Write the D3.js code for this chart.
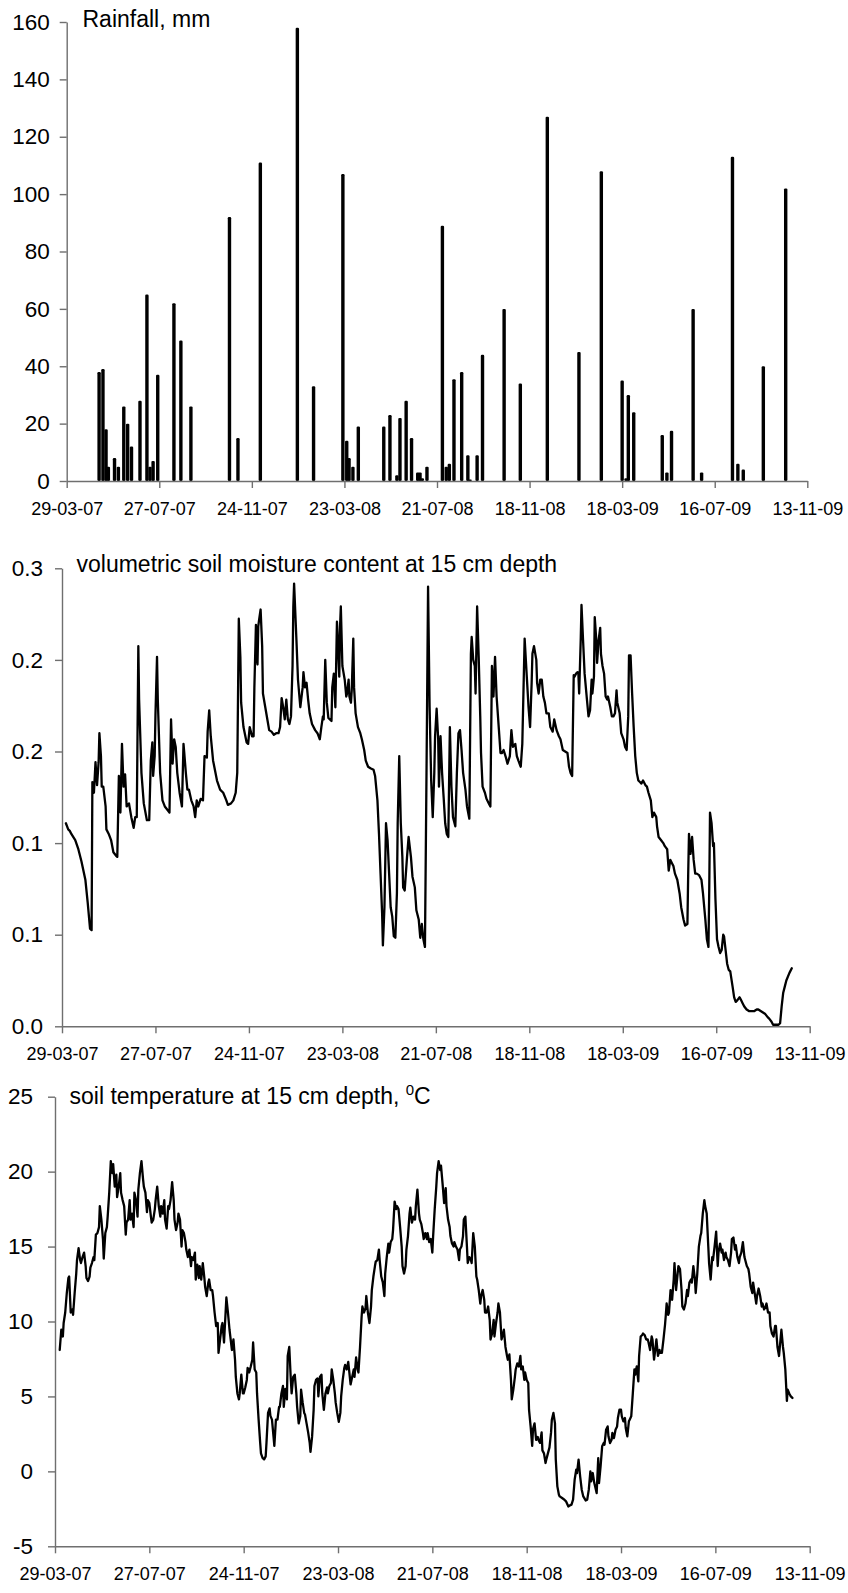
<!DOCTYPE html>
<html>
<head>
<meta charset="utf-8">
<script src="https://cdn.jsdelivr.net/npm/d3@7"></script>
<style>
  body { margin: 0; background: #fff; }
  svg text { font-family: "Liberation Sans", Arial, Helvetica, sans-serif; fill: #000; }
</style>
</head>
<body>
<svg id="chart" width="848" height="1593"></svg>
<script>
// Day numbers count from 29 March 2007 (day 0); the record ends on 13 November 2009 (day 960).
const startUTC = Date.UTC(2007, 2, 29);
const axisEndDay = 960;
const xTickDays = [0, 120, 240, 360, 480, 600, 720, 840, 960];

// Rainfall events, mm
const rainDays = [42, 47, 51, 54, 62, 67, 74, 79, 84, 95, 104, 108, 112, 118, 139, 148, 161,
  211, 222, 251, 299, 320, 358, 363, 366, 371, 378, 411, 419, 428, 432, 440, 447, 455, 458,
  461, 467, 487, 492, 496, 502, 512, 520, 523, 532, 539, 567, 588, 623, 664, 693, 720, 725,
  728, 735, 772, 778, 784, 812, 823, 863, 870, 877, 903, 932];
const rainMm = [38, 39, 18, 5, 8, 5, 26, 20, 12, 28, 65, 5, 7, 37, 62, 49, 26,
  92, 15, 111, 158, 33, 107, 14, 8, 5, 19, 19, 23, 2, 22, 28, 15, 3, 3,
  1, 5, 89, 5, 6, 35.5, 38, 9, 0.5, 9, 44, 60, 34, 127, 45, 108, 35, 1,
  30, 24, 16, 3, 17.5, 60, 3, 113, 6, 4, 40, 102];
const rainTicks = [0, 20, 40, 60, 80, 100, 120, 140, 160];

// Volumetric soil moisture at 15 cm: [day, m3/m3]
const moistureSeries = [
  [5,.133],[8,.129],[10,.128],[12,.126],[17,.122],[21,.116],[25,.108],[30,.096],[33,.081],[36,.064],
  [38,.063],[39,.160],[41,.153],[43,.173],[45,.158],[47,.173],[48,.192],[50,.177],[51,.157],[53,.157],
  [56,.144],[57,.129],[60,.126],[63,.122],[66,.114],[69,.112],[71,.111],[73,.164],[75,.140],[77,.185],
  [79,.157],[81,.165],[83,.144],[86,.146],[89,.137],[92,.130],[94,.137],[96,.137],[98,.249],[99,.214],
  [102,.166],[105,.146],[109,.135],[112,.135],[114,.174],[116,.186],[117,.164],[119,.177],[120,.204],[122,.242],
  [123,.214],[126,.166],[129,.148],[132,.144],[135,.142],[138,.140],[140,.201],[142,.172],[144,.188],[146,.183],
  [148,.166],[151,.153],[154,.144],[156,.185],[157,.179],[159,.166],[161,.155],[163,.155],[166,.148],[169,.144],
  [171,.137],[173,.148],[175,.144],[178,.149],[181,.148],[183,.177],[186,.176],[187,.193],[189,.207],[191,.190],
  [194,.174],[199,.161],[203,.155],[207,.153],[211,.148],[213,.145],[217,.146],[220,.148],[223,.153],[225,.166],
  [227,.267],[229,.242],[230,.212],[233,.196],[237,.186],[239,.185],[241,.196],[244,.190],[246,.190],[247,.222],
  [249,.263],[250,.242],[251,.237],[252,.262],[253,.266],[255,.273],[257,.249],[258,.218],[261,.209],[264,.200],
  [266,.194],[269,.193],[272,.191],[275,.192],[278,.192],[280,.196],[282,.215],[284,.209],[286,.201],[288,.214],
  [290,.201],[292,.198],[294,.203],[296,.236],[297,.275],[298,.290],[301,.253],[303,.227],[306,.209],[309,.222],
  [310,.232],[312,.222],[314,.225],[316,.214],[318,.205],[321,.198],[325,.194],[328,.192],[331,.188],[333,.196],
  [335,.203],[336,.201],[338,.240],[340,.212],[342,.202],[344,.201],[346,.200],[347,.222],[349,.231],[351,.209],
  [353,.265],[354,.255],[356,.229],[357,.262],[358,.275],[360,.236],[361,.233],[363,.227],[365,.216],[366,.218],
  [368,.227],[369,.216],[371,.212],[372,.220],[374,.254],[375,.222],[377,.205],[380,.196],[383,.192],[385,.188],
  [388,.181],[390,.174],[393,.170],[396,.169],[400,.168],[402,.164],[405,.148],[407,.126],[409,.100],[411,.074],
  [412,.053],[414,.078],[416,.133],[418,.122],[420,.100],[422,.078],[424,.072],[426,.059],[428,.058],[430,.087],
  [431,.133],[433,.177],[435,.133],[437,.111],[438,.091],[440,.089],[443,.111],[445,.124],[448,.111],[450,.098],
  [453,.091],[455,.076],[458,.070],[460,.058],[462,.067],[464,.057],[466,.052],[468,.166],[470,.288],[472,.209],
  [474,.161],[476,.137],[478,.166],[479,.190],[481,.208],[483,.188],[484,.157],[486,.190],[488,.166],[490,.150],
  [492,.133],[494,.126],[496,.124],[498,.196],[500,.157],[502,.137],[505,.131],[507,.166],[509,.192],[511,.194],
  [513,.181],[515,.166],[518,.155],[520,.144],[523,.136],[525,.244],[526,.255],[528,.240],[530,.236],[531,.218],
  [533,.275],[535,.242],[537,.203],[538,.179],[540,.157],[543,.153],[545,.149],[548,.146],[550,.144],[552,.236],
  [554,.216],[556,.242],[558,.216],[561,.194],[563,.179],[565,.179],[567,.181],[570,.176],[572,.172],[575,.177],
  [577,.194],[579,.183],[582,.185],[584,.177],[586,.174],[589,.170],[591,.185],[593,.231],[594,.254],[597,.227],
  [599,.209],[601,.196],[603,.225],[604,.244],[606,.249],[609,.240],[610,.225],[612,.218],[614,.227],[616,.227],
  [618,.216],[620,.212],[622,.205],[625,.205],[627,.196],[630,.193],[632,.201],[635,.194],[638,.190],[640,.188],
  [643,.181],[646,.180],[649,.179],[651,.170],[653,.166],[655,.164],[657,.230],[658,.229],[660,.231],[662,.232],
  [663,.231],[664,.218],[666,.253],[667,.276],[669,.253],[671,.231],[674,.214],[676,.203],[678,.207],[680,.227],
  [681,.218],[683,.229],[684,.268],[686,.253],[687,.238],[689,.253],[691,.261],[692,.244],[694,.236],[696,.231],
  [698,.216],[700,.214],[701,.216],[704,.209],[706,.203],[708,.203],[710,.205],[712,.220],[713,.212],[716,.205],
  [718,.192],[721,.188],[723,.183],[725,.181],[727,.203],[728,.243],[730,.243],[732,.218],[734,.196],[736,.177],
  [738,.166],[740,.161],[742,.160],[744,.159],[746,.161],[749,.158],[751,.157],[753,.153],[756,.148],[758,.137],
  [760,.140],[763,.137],[764,.131],[766,.124],[769,.122],[772,.120],[774,.118],[777,.116],[779,.102],[781,.109],
  [783,.107],[785,.105],[787,.100],[790,.096],[793,.087],[795,.078],[798,.070],[800,.066],[803,.067],[804,.100],
  [805,.126],[807,.113],[809,.124],[811,.109],[813,.100],[815,.100],[818,.099],[821,.096],[823,.087],[826,.070],
  [828,.057],[830,.052],[831,.089],[832,.140],[834,.133],[836,.118],[837,.120],[839,.083],[841,.057],[843,.052],
  [845,.048],[847,.050],[849,.060],[850,.059],[852,.050],[854,.041],[856,.037],[858,.036],[861,.026],[863,.019],
  [865,.016],[867,.017],[870,.019],[872,.017],[874,.015],[876,.013],[879,.011],[882,.010],[885,.010],[889,.010],
  [892,.011],[894,.011],[897,.010],[900,.009],[903,.008],[906,.006],[908,.005],[911,.003],[913,.001],[916,.001],
  [920,.001],[922,.002],[924,.013],[926,.022],[928,.026],[930,.030],[934,.035],[937,.038]
];
const moistureTicks = [0, 0.06, 0.12, 0.18, 0.24, 0.30];

// Soil temperature at 15 cm: [day, °C]
const temperatureSeries = [
  [6,8.1],[8,9.45],[10,9.0],[11,9.9],[13,10.6],[15,11.9],[17,12.9],[18,13.0],[20,10.6],[22,10.8],
  [23,10.45],[25,11.9],[27,13.2],[28,14.1],[30,14.9],[32,14.1],[33,13.9],[35,14.3],[37,14.6],[39,13.7],
  [40,12.9],[42,12.7],[44,13.0],[45,13.6],[47,13.9],[49,14.3],[50,14.1],[52,15.8],[54,15.9],[56,16.3],
  [57,17.7],[59,16.8],[61,15.5],[62,14.2],[64,15.9],[66,16.3],[67,17.0],[69,18.6],[71,20.7],[73,19.9],
  [74,20.5],[76,19.0],[78,19.8],[79,18.3],[81,19.0],[83,19.9],[84,18.6],[86,18.1],[88,17.7],[90,15.8],
  [91,16.6],[93,16.8],[95,18.1],[96,16.8],[98,17.2],[100,16.3],[101,18.6],[103,18.1],[105,17.0],[106,18.8],
  [108,19.9],[110,20.7],[112,19.5],[113,19.0],[115,18.6],[117,17.3],[118,18.1],[120,17.9],[122,17.0],[123,16.6],
  [125,16.8],[127,17.5],[128,18.1],[130,19.0],[132,17.7],[134,17.0],[135,17.7],[137,17.2],[139,18.1],[140,16.8],
  [142,16.2],[144,17.7],[145,17.5],[147,18.1],[149,19.3],[151,18.1],[152,16.8],[154,16.1],[156,16.6],[157,17.2],
  [159,16.8],[161,15.0],[162,16.1],[164,15.9],[166,15.3],[167,14.8],[169,14.3],[171,14.8],[173,13.7],[174,14.3],
  [176,14.1],[178,14.6],[179,12.8],[181,13.8],[183,12.9],[184,13.7],[186,12.8],[188,13.9],[190,12.9],[191,12.3],
  [193,11.7],[195,12.6],[196,12.8],[198,12.1],[200,12.1],[201,11.7],[203,10.6],[205,9.7],[207,9.9],[208,7.9],
  [210,8.8],[212,9.7],[213,9.9],[215,8.6],[217,10.6],[218,11.6],[220,10.6],[222,9.45],[223,9.0],[225,8.1],
  [227,8.8],[229,7.45],[230,6.3],[232,5.2],[234,4.8],[235,5.2],[237,6.45],[239,5.2],[240,5.2],[242,5.6],
  [244,6.1],[245,6.9],[247,6.6],[249,7.0],[251,7.45],[252,8.6],[254,6.8],[256,6.6],[257,5.2],[259,3.45],
  [261,1.9],[262,1.2],[264,0.9],[266,0.8],[268,1.0],[269,1.9],[271,3.9],[273,4.2],[274,3.7],[276,3.45],
  [278,2.3],[279,1.7],[281,3.45],[283,3.45],[285,4.3],[286,4.3],[288,5.2],[290,5.7],[291,4.3],[293,5.5],
  [295,4.8],[296,7.7],[298,8.3],[300,6.1],[301,5.2],[303,6.3],[305,6.45],[307,5.2],[308,4.3],[310,3.2],
  [312,3.7],[313,5.45],[315,4.6],[317,3.9],[318,3.8],[320,3.2],[322,2.6],[324,1.9],[325,1.3],[327,2.3],
  [329,4.1],[330,5.7],[332,6.1],[334,6.2],[335,5.0],[337,6.3],[339,6.45],[340,5.2],[342,4.1],[344,5.2],
  [346,5.6],[347,5.2],[349,5.7],[351,5.9],[352,6.8],[354,6.1],[356,5.2],[357,4.6],[359,3.9],[361,3.3],
  [363,3.9],[364,5.0],[366,6.1],[368,6.9],[369,7.1],[371,6.8],[373,7.3],[374,6.8],[376,5.8],[378,6.3],
  [380,6.8],[381,6.3],[383,7.6],[385,6.8],[386,6.6],[388,8.3],[390,10.3],[391,11.0],[393,10.6],[395,10.9],
  [396,11.7],[398,10.6],[400,9.9],[402,11.0],[403,12.1],[405,13.0],[407,13.7],[408,14.0],[410,14.1],[412,14.8],
  [413,14.1],[415,13.0],[417,12.6],[419,11.7],[420,13.2],[422,14.3],[424,15.2],[425,14.6],[427,15.3],[429,15.5],
  [430,16.1],[432,18.0],[434,17.5],[435,17.7],[437,17.5],[439,16.3],[441,15.0],[442,13.7],[444,13.2],[446,13.7],
  [447,14.8],[449,15.7],[451,17.2],[452,17.6],[454,16.6],[456,17.0],[458,16.8],[459,17.7],[461,18.8],[463,17.2],
  [464,16.8],[466,16.5],[468,15.9],[469,15.5],[471,15.9],[473,15.5],[474,15.9],[476,15.3],[478,15.5],[480,14.6],
  [481,15.7],[483,17.5],[485,19.0],[486,19.9],[488,20.7],[490,20.1],[491,20.4],[493,19.2],[495,17.9],[497,18.9],
  [498,17.7],[500,16.8],[502,16.3],[503,15.7],[505,15.2],[507,15.0],[508,15.3],[510,15.0],[512,14.8],[514,14.1],
  [515,14.8],[517,15.0],[519,15.7],[520,16.8],[522,17.0],[524,15.0],[525,13.9],[527,14.3],[529,14.1],[530,13.9],
  [532,15.9],[534,15.0],[536,13.0],[537,12.8],[539,12.1],[541,11.2],[542,11.7],[544,12.1],[546,11.45],[547,10.6],
  [549,10.6],[551,11.0],[553,10.1],[554,8.8],[556,9.2],[558,10.1],[559,9.0],[561,9.9],[563,10.6],[564,11.2],
  [566,10.6],[568,8.8],[570,9.2],[571,9.45],[573,8.3],[575,7.7],[576,7.45],[578,7.8],[580,6.1],[581,4.8],
  [583,5.45],[585,6.3],[586,6.8],[588,7.2],[590,7.0],[592,7.7],[593,6.8],[595,7.0],[597,6.1],[598,6.6],
  [600,6.1],[602,5.9],[603,4.1],[605,3.0],[607,1.7],[608,2.8],[610,3.2],[612,2.1],[614,2.3],[615,2.1],
  [617,1.9],[619,2.6],[620,1.4],[622,1.2],[624,0.56],[625,0.8],[627,1.2],[629,1.6],[631,2.6],[632,3.45],
  [634,3.9],[636,3.2],[637,0.8],[639,-1.0],[641,-1.56],[642,-1.67],[645,-1.78],[648,-1.89],[650,-2.0],[653,-2.34],
  [655,-2.27],[657,-2.22],[659,-1.89],[661,-0.56],[663,0.11],[664,-0.11],[666,0.78],[668,-0.33],[670,-1.22],[672,-1.67],
  [675,-1.94],[677,-1.89],[679,-1.22],[681,0],[682,-0.67],[684,-0.11],[686,-0.78],[687,-1.0],[689,-1.45],[691,0.89],
  [692,-0.78],[694,0.33],[696,1.67],[698,1.89],[699,1.78],[701,2.78],[703,3.0],[704,2.34],[706,1.89],[708,2.11],
  [709,2.56],[711,2.22],[713,2.78],[715,3.0],[716,3.56],[718,4.11],[720,4.11],[721,3.67],[723,3.34],[725,3.56],
  [726,2.89],[728,2.34],[730,3.34],[731,3.45],[733,3.67],[735,5.2],[737,6.8],[738,6.45],[740,7.0],[742,6.0],
  [743,7.7],[745,9.0],[747,9.1],[748,9.2],[750,9.1],[752,8.8],[754,8.8],[755,8.6],[757,8.1],[759,9.0],
  [760,8.8],[762,7.45],[764,8.3],[765,8.8],[767,7.7],[769,8.1],[770,7.9],[772,7.9],[774,8.8],[776,9.8],
  [777,10.45],[778,11.2],[780,10.45],[781,10.6],[783,12.1],[785,11.45],[787,12.8],[788,13.9],[790,12.1],[792,13.2],
  [793,13.7],[795,13.5],[797,12.1],[798,11.0],[800,10.8],[802,11.2],[804,12.1],[805,11.7],[807,12.6],[809,12.8],
  [810,12.6],[812,13.7],[814,12.8],[815,11.9],[817,13.2],[819,15.0],[821,15.7],[822,15.9],[824,17.2],[826,18.1],
  [827,17.7],[829,17.2],[831,15.0],[832,13.9],[834,12.8],[836,14.3],[837,14.1],[839,15.0],[841,16.0],[843,13.7],
  [844,14.6],[846,15.2],[848,14.6],[849,14.8],[851,14.1],[853,14.6],[854,14.3],[856,14.1],[858,13.7],[860,14.6],
  [861,15.5],[863,15.6],[865,14.8],[866,15.1],[868,14.3],[870,13.9],[871,14.3],[873,14.6],[875,15.3],[877,14.3],
  [878,14.1],[880,13.7],[882,13.5],[883,13.2],[885,12.3],[887,11.9],[888,12.6],[890,11.9],[892,11.2],[893,11.7],
  [895,12.2],[897,11.7],[899,11.0],[900,11.2],[902,10.8],[904,11.0],[905,11.2],[907,10.6],[909,10.6],[910,9.7],
  [912,9.2],[914,9.0],[916,9.7],[917,9.7],[919,8.3],[921,7.7],[922,8.3],[924,9.45],[926,8.3],[927,7.9],
  [929,6.8],[931,4.7],[932,5.45],[934,5.2],[936,5.0],[938,4.9]
];
const temperatureTicks = [-5, 0, 5, 10, 15, 20, 25];

const toDate = d => new Date(startUTC + d * 864e5);
const fmtDate = d3.utcFormat("%d-%m-%y");
const plainNumber = v => String(v);          // keeps an ASCII hyphen on "-5"
const FONT = '"Liberation Sans", Arial, Helvetica, sans-serif';
const AXIS_COLOR = "#6f6f6f";
const svg = d3.select("#chart");

// Builds one panel's scales and axes; returns the scales and a layer for the data marks.
function makePanel(o) {
  const x = d3.scaleUtc().domain([toDate(0), toDate(axisEndDay)]).range([o.left, o.right]);
  const y = d3.scaleLinear().domain(o.yDomain).range([o.bottom, o.top]);
  const g = svg.append("g");
  const marks = g.append("g");

  const gx = g.append("g")
    .attr("transform", `translate(0,${o.bottom})`)
    .call(d3.axisBottom(x)
      .tickValues(xTickDays.map(toDate))
      .tickFormat(fmtDate)
      .tickSize(7).tickSizeOuter(0).tickPadding(14));
  const gy = g.append("g")
    .attr("transform", `translate(${o.left},0)`)
    .call(d3.axisLeft(y)
      .tickValues(o.ticks)
      .tickFormat(o.format)
      .tickSize(7).tickSizeOuter(0).tickPadding(o.labelPad));

  [gx, gy].forEach(a => {
    a.selectAll("path, line").attr("stroke", AXIS_COLOR).attr("stroke-width", 1.4);
    a.selectAll("text").style("font-family", FONT).attr("fill", "#000");
  });
  gx.selectAll("text").style("font-size", "18px");
  gy.selectAll("text").style("font-size", "22.5px");

  return { x, y, marks };
}

// Panel 1: rainfall
const p1 = makePanel({ left: 66.7, right: 807.3, top: 22, bottom: 481,
  yDomain: [0, 160], ticks: rainTicks, format: plainNumber, labelPad: 10 });
p1.marks.selectAll("rect")
  .data(rainDays.map((d, i) => ({ date: toDate(d), mm: rainMm[i] })))
  .join("rect")
  .attr("x", d => p1.x(d.date) - 1.7)
  .attr("width", 3.4)
  .attr("y", d => p1.y(d.mm))
  .attr("height", d => p1.y(0) - p1.y(d.mm))
  .attr("rx", 1.2)
  .attr("fill", "#000");
svg.append("text").attr("x", 82.5).attr("y", 27)
  .style("font-size", "23px").text("Rainfall, mm");

// Panel 2: soil moisture
const p2 = makePanel({ left: 62, right: 809.7, top: 568.3, bottom: 1026.3,
  yDomain: [0, 0.3], ticks: moistureTicks, format: d3.format(".1f"), labelPad: 12 });
p2.marks.append("path")
  .datum(moistureSeries)
  .attr("fill", "none").attr("stroke", "#000").attr("stroke-width", 2.3)
  .attr("stroke-linejoin", "round").attr("stroke-linecap", "round")
  .attr("d", d3.line().x(d => p2.x(toDate(d[0]))).y(d => p2.y(d[1])));
svg.append("text").attr("x", 76.5).attr("y", 572)
  .style("font-size", "23px").text("volumetric soil moisture content at 15 cm depth");

// Panel 3: soil temperature
const p3 = makePanel({ left: 55, right: 809.7, top: 1096.7, bottom: 1546.3,
  yDomain: [-5, 25], ticks: temperatureTicks, format: plainNumber, labelPad: 15 });
p3.marks.append("path")
  .datum(temperatureSeries)
  .attr("fill", "none").attr("stroke", "#000").attr("stroke-width", 2.3)
  .attr("stroke-linejoin", "round").attr("stroke-linecap", "round")
  .attr("d", d3.line().x(d => p3.x(toDate(d[0]))).y(d => p3.y(d[1])));
const t3 = svg.append("text").attr("x", 69.5).attr("y", 1104.3).style("font-size", "23px");
t3.append("tspan").text("soil temperature at 15 cm depth, ");
t3.append("tspan").attr("dy", -9).style("font-size", "15px").text("0");
t3.append("tspan").attr("dy", 9).text("C");

svg.selectAll("text").style("font-family", FONT);
</script>
</body>
</html>
